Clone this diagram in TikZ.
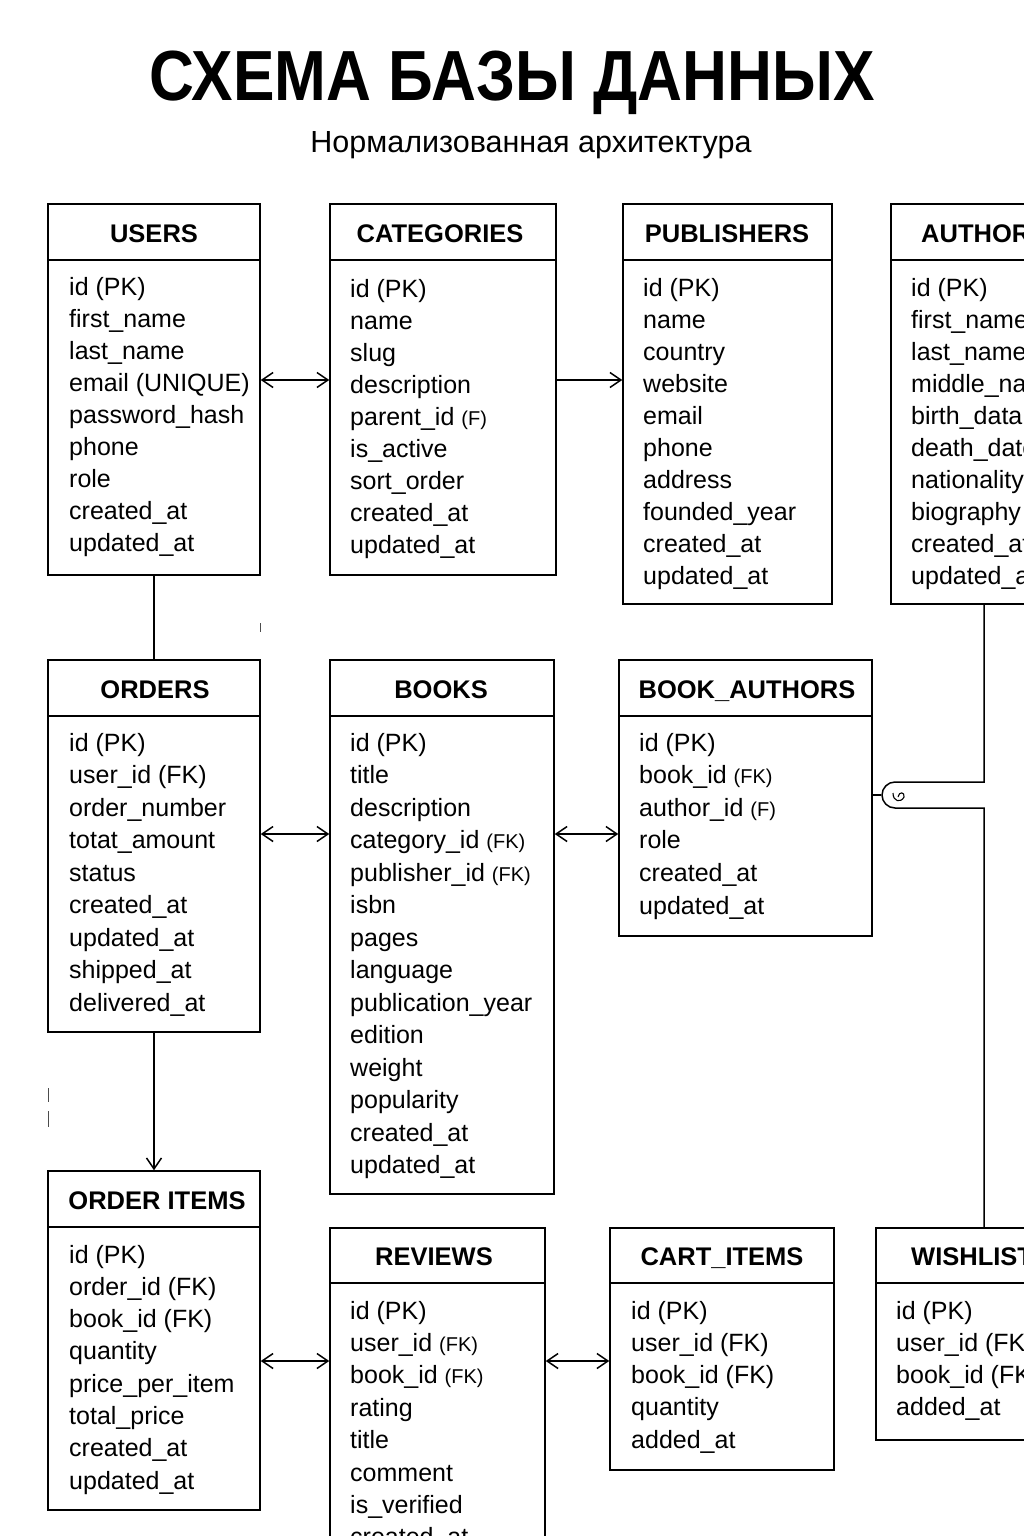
\documentclass[tikz,border=0pt]{standalone}
\usepackage{fontspec}
\setmainfont{Liberation Sans}
\usetikzlibrary{arrows.meta,fit}
\newcommand\sk[1]{{\fontsize{20}{20}\selectfont #1}}
\newcommand\dbtable[6]{%
  \node[tbl, fit={(#2,#3)(#4,#5)}] (#1) {};
  \draw[line width=1.5pt] (#1.west |- 0,#6) -- (#1.east |- 0,#6);}
\newcommand\dbfields[5]{%
  \foreach \f [count=\i from 0] in {#5} {\node[fld] (#1-f\i) at (#2, #3+#4*\i) {\f};}}
\begin{document}
\begin{tikzpicture}[x=1pt,y=-1pt,
  tbl/.style={draw, line width=1.5pt, fill=white, inner sep=0pt},
  hdr/.style={font=\bfseries\fontsize{25.5}{30}\selectfont, inner sep=0pt, text height=18pt, text depth=0pt},
  fld/.style={anchor=west, inner sep=0pt, yshift=-2pt, font=\fontsize{25}{30}\selectfont, text height=17pt, text depth=5pt},
  con/.style={line width=1.5pt},
  >={Straight Barb[length=11pt,width=15pt]},
  tickmark/.style={line width=1pt, black!70}]
\useasboundingbox (0,0) rectangle (1024,1536);
\fill[white] (0,0) rectangle (1024,1536);
\clip (0,0) rectangle (1024,1536);

\node[font=\bfseries\fontsize{71}{80}\selectfont, inner sep=0pt] (title) at (512,83) {\scalebox{0.876}[1]{СХЕМА БАЗЫ ДАННЫХ}};
\node[font=\fontsize{30.5}{34}\selectfont, inner sep=0pt] (subtitle) at (531,145) {Нормализованная архитектура};

% row 1
\dbtable{users}{48}{204}{260}{575}{260}
\node[hdr] (users-h) at (154,233) {USERS};
\dbfields{users}{69}{287}{32.1}{id (PK), first\_name, last\_name, email (UNIQUE), password\_hash, phone, role, created\_at, updated\_at}

\dbtable{categories}{330}{204}{556}{575}{260}
\node[hdr] (categories-h) at (440,233) {CATEGORIES};
\dbfields{categories}{350}{289}{32}{id (PK), name, slug, description, parent\_id \sk{(F)}, is\_active, sort\_order, created\_at, updated\_at}

\dbtable{publishers}{623}{204}{832}{604}{260}
\node[hdr] (publishers-h) at (727,233) {PUBLISHERS};
\dbfields{publishers}{643}{288}{32}{id (PK), name, country, website, email, phone, address, founded\_year, created\_at, updated\_at}

\dbtable{authors}{891}{204}{1076}{604}{260}
\node[hdr, anchor=west] (authors-h) at (921,233) {AUTHORS};
\dbfields{authors}{911}{288}{32}{id (PK), first\_name, last\_name, middle\_name, birth\_data, death\_date, nationality, biography, created\_at, updated\_at}

% row 2
\dbtable{orders}{48}{660}{260}{1032}{716}
\node[hdr] (orders-h) at (155,689) {ORDERS};
\dbfields{orders}{69}{743}{32.5}{id (PK), user\_id (FK), order\_number, totat\_amount, status, created\_at, updated\_at, shipped\_at, delivered\_at}

\dbtable{books}{330}{660}{554}{1194}{716}
\node[hdr] (books-h) at (441,689) {BOOKS};
\dbfields{books}{350}{743}{32.5}{id (PK), title, description, category\_id \sk{(FK)}, publisher\_id \sk{(FK)}, isbn, pages, language, publication\_year, edition, weight, popularity, created\_at, updated\_at}

\dbtable{bookauthors}{619}{660}{872}{936}{716}
\node[hdr] (bookauthors-h) at (747,689) {BOOK\_AUTHORS};
\dbfields{bookauthors}{639}{743}{32.6}{id (PK), book\_id \sk{(FK)}, author\_id \sk{(F)}, role, created\_at, updated\_at}

% row 3
\dbtable{orderitems}{48}{1171}{260}{1510}{1227}
\node[hdr] (orderitems-h) at (157,1200) {ORDER ITEMS};
\dbfields{orderitems}{69}{1255}{32.3}{id (PK), order\_id (FK), book\_id (FK), quantity, price\_per\_item, total\_price, created\_at, updated\_at}

\dbtable{reviews}{330}{1228}{545}{1570}{1283}
\node[hdr] (reviews-h) at (434,1256) {REVIEWS};
\dbfields{reviews}{350}{1311}{32.4}{id (PK), user\_id \sk{(FK)}, book\_id \sk{(FK)}, rating, title, comment, is\_verified, created\_at}

\dbtable{cartitems}{610}{1228}{834}{1470}{1283}
\node[hdr] (cartitems-h) at (722,1256) {CART\_ITEMS};
\dbfields{cartitems}{631}{1311}{32.3}{id (PK), user\_id (FK), book\_id (FK), quantity, added\_at}

\dbtable{wishlist}{876}{1228}{1090}{1440}{1283}
\node[hdr, anchor=west] (wishlist-h) at (911,1256) {WISHLIST};
\dbfields{wishlist}{896}{1311}{32.3}{id (PK), user\_id (FK), book\_id (FK), added\_at}

% connectors
\draw[con,<->] (users.east |- 0,380) -- (categories.west |- 0,380);
\draw[con,->] (categories.east |- 0,380) -- (publishers.west |- 0,380);
\draw[con] (users.south) -- (orders.north);
\draw[con,<->] (orders.east |- 0,834) -- (books.west |- 0,834);
\draw[con,<->] (books.east |- 0,834) -- (bookauthors.west |- 0,834);
\draw[con,->] (orders.south) -- (orderitems.north);
\draw[con,<->] (orderitems.east |- 0,1361) -- (reviews.west |- 0,1361);
\draw[con,<->] (reviews.east |- 0,1361) -- (cartitems.west |- 0,1361);

\coordinate (jtop) at (984,782);
\coordinate (jbot) at (984,808);
\coordinate (jleft) at (881,795);
\draw[con] (authors.south -| 984,0) -- (jtop) -- (895,782) arc[start angle=90, end angle=270, radius=13pt] -- (jbot) -- (wishlist.north -| 984,0);
\draw[con] (bookauthors.east |- jleft) -- (jleft);
\draw[line width=1.1pt] (893,793) .. controls (893,802) and (901,803) .. (904,797) .. controls (905,792) and (899,791) .. (898,797);

% small marks
\draw[tickmark] (260,623) -- (260,632);
\draw[tickmark] (48,1088) -- (48,1102);
\draw[tickmark] (48,1111) -- (48,1127);
\end{tikzpicture}
\end{document}
